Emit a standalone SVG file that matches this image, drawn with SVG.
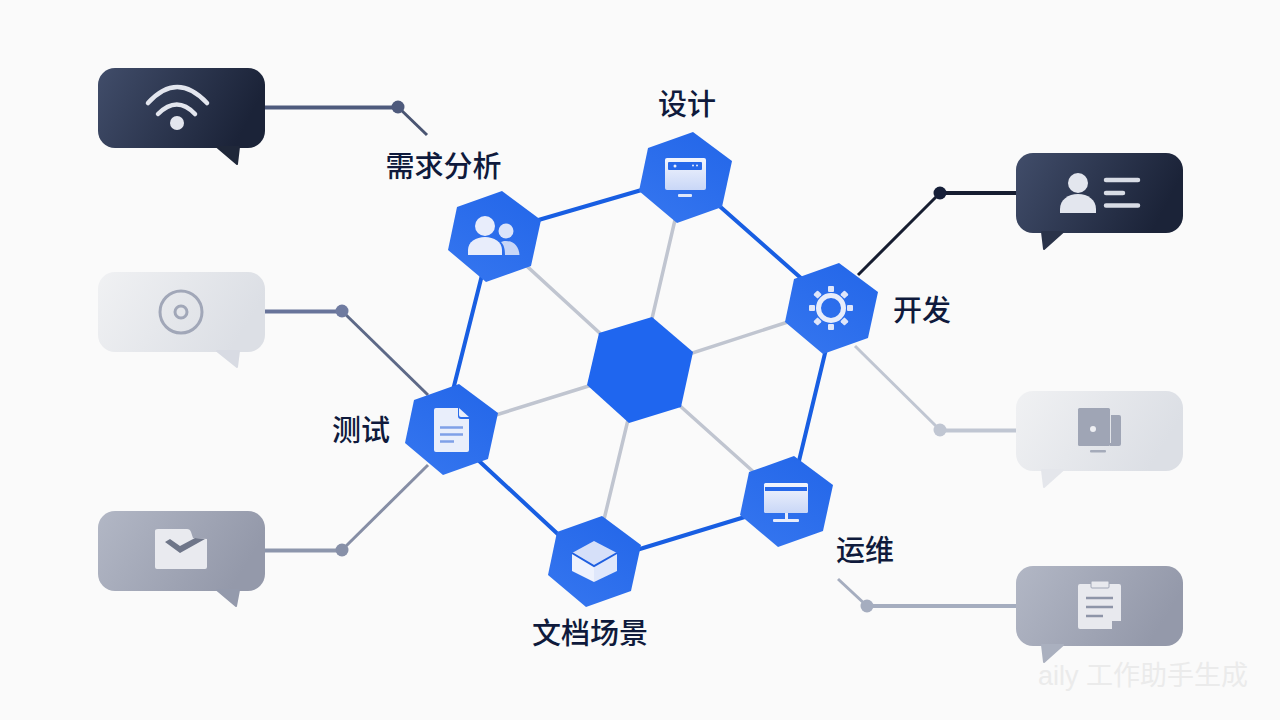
<svg xmlns="http://www.w3.org/2000/svg" width="1280" height="720" viewBox="0 0 1280 720">
<style>
.lbl{font-family:"Noto Sans CJK SC","Noto Sans",sans-serif;font-size:29px;font-weight:500;fill:#0f1a3c;text-anchor:middle;dominant-baseline:central}
.wm{font-family:"Liberation Sans","Noto Sans CJK SC",sans-serif;font-size:27px;fill:#ebebeb;text-anchor:middle}
.blue{stroke:#185ee2;stroke-width:4;fill:none}
.spoke{stroke:#c0c5d0;stroke-width:3.500;fill:none}
.wire{fill:none;stroke-width:3}
.hor{fill:none;stroke-width:4}
.ic{fill:#e8edfb}
</style>
<defs>
<linearGradient id="dark" x1="0" y1="0" x2="1" y2="0.25"><stop offset="0" stop-color="#414d6a"/><stop offset="1" stop-color="#1b2338"/></linearGradient>
<linearGradient id="light" x1="0" y1="0" x2="1" y2="0.3"><stop offset="0" stop-color="#f0f1f3"/><stop offset="1" stop-color="#dcdfe5"/></linearGradient>
<linearGradient id="mid" x1="0" y1="0" x2="1" y2="0.3"><stop offset="0" stop-color="#b2b7c5"/><stop offset="1" stop-color="#9499aa"/></linearGradient>
<linearGradient id="hex" x1="0.8" y1="0" x2="0.2" y2="1"><stop offset="0" stop-color="#2467e9"/><stop offset="1" stop-color="#3475ef"/></linearGradient>
<linearGradient id="scr" x1="0" y1="0" x2="0" y2="1"><stop offset="0" stop-color="#f2f5fd"/><stop offset="1" stop-color="#c9d7f7"/></linearGradient>
<path id="hx" d="M8,-45L47,-16L37,30L-8,46L-46,14L-37,-29Z" fill="url(#hex)"/>
</defs>
<rect width="1280" height="720" fill="#fafafa"/>
<text class="wm" x="1143" y="685">aily 工作助手生成</text>
<g id="connectors">
<path class="blue" d="M535,221L645,189M716,203L802,279M827,345L798,465M748,516L630,552M561,537L478,460M453,390L482,275"/>
<path class="spoke" d="M494,236L640,370M685,177L640,370M831,308L640,370M786,501L640,370M594,561L640,370M451,429L640,370"/>
<path class="hor" stroke="#4e5a7c" d="M265,107.500H398"/><path class="wire" stroke="#4a5572" d="M398,107L427,135"/><circle cx="398" cy="107" r="6.500" fill="#4e5a7c"/>
<path class="hor" stroke="#68749a" d="M265,311.500H342"/><path class="wire" stroke="#5d6987" d="M342,311L428,395"/><circle cx="342" cy="311" r="6.500" fill="#6f7ba0"/>
<path class="hor" stroke="#8d96ac" d="M265,550.500H342"/><path class="wire" stroke="#868ea5" d="M342,550L428,465"/><circle cx="342" cy="550" r="6.500" fill="#8790a8"/>
<path class="hor" stroke="#161d30" d="M1016,193H940"/><path class="wire" stroke="#161d30" d="M940,193L858,275"/><circle cx="940" cy="193" r="6.500" fill="#161f38"/>
<path class="hor" stroke="#c0c6d2" d="M1016,430.500H940"/><path class="wire" stroke="#c0c6d2" d="M940,430L855,346"/><circle cx="940" cy="430" r="6.500" fill="#c0c6d2"/>
<path class="hor" stroke="#a5adbf" d="M1016,606H867"/><path class="wire" stroke="#a5adbf" d="M867,606L838,579"/><circle cx="867" cy="606" r="6.500" fill="#a5adbf"/>
</g>
<g id="center"><path d="M652,317L693,352L681,407L629,423L587,385L599,333Z" fill="#1f66ef"/></g>
<g id="node-xuqiu"><use href="#hx" x="494" y="236"/>
<circle class="ic" cx="485" cy="226" r="10"/><path class="ic" d="M468,255V250C468,242 476,237 485,237C494,237 502,242 502,250V255Z"/>
<circle cx="506" cy="231" r="7.500" fill="#dbe4fa"/><path fill="#c7d6f7" d="M504,241C513,240 519,246 519.500,255H505C505,249 504,245 501,242Z"/>
</g>
<text class="lbl" x="443.500" y="164">需求分析</text>
<g id="node-sheji"><use href="#hx" x="685" y="177"/>
<rect x="665" y="158" width="41" height="32" rx="2" fill="url(#scr)"/><rect x="668" y="162" width="34" height="8" rx="1" fill="#2668ea"/><circle cx="675" cy="166" r="1.500" fill="#e8edfb"/><circle cx="693" cy="165.500" r="1" fill="#e8edfb"/><circle cx="697" cy="165.500" r="1" fill="#e8edfb"/>
<rect x="678" y="194" width="14" height="3" rx="1" fill="#dfe7fa"/>
</g>
<text class="lbl" x="687" y="102">设计</text>
<g id="node-kaifa"><use href="#hx" x="831" y="308"/>
<circle cx="831" cy="308" r="12.500" fill="none" stroke="#e8edfb" stroke-width="5"/>
<g fill="#dfe6fa"><rect x="828" y="286" width="6" height="6" rx="1"/><rect x="828" y="324" width="6" height="6" rx="1"/><rect x="809" y="305" width="6" height="6" rx="1"/><rect x="847" y="305" width="6" height="6" rx="1"/>
<rect x="828" y="286" width="6" height="6" rx="1" transform="rotate(45 831 308)"/><rect x="828" y="286" width="6" height="6" rx="1" transform="rotate(135 831 308)"/><rect x="828" y="286" width="6" height="6" rx="1" transform="rotate(225 831 308)"/><rect x="828" y="286" width="6" height="6" rx="1" transform="rotate(315 831 308)"/></g>
</g>
<text class="lbl" x="922" y="308">开发</text>
<g id="node-yunwei"><use href="#hx" x="786" y="501"/>
<rect x="764" y="483" width="44" height="30" rx="1.500" fill="url(#scr)"/><rect x="765" y="487" width="42" height="4" fill="#2668ea"/>
<rect x="785" y="513" width="3" height="6" fill="#e8edfb"/><rect x="773" y="519" width="26" height="3" rx="1" fill="#e8edfb"/>
</g>
<text class="lbl" x="865" y="548">运维</text>
<g id="node-wendang"><use href="#hx" x="594" y="561"/>
<path d="M594,541L617,553L594,566L572,553Z" fill="#d6e0f9"/><path d="M572,553L594,566V582L572,571Z" fill="#eef2fd"/><path d="M617,553L594,566V582L617,571Z" fill="#dfe7fb"/>
<path d="M572,553L594,566L617,553" fill="none" stroke="#1f5fe0" stroke-width="2"/>
</g>
<text class="lbl" x="590" y="631">文档场景</text>
<g id="node-ceshi"><use href="#hx" x="451" y="429"/>
<path d="M436,408H458V416Q458,419 461,419H469V450Q469,452 467,452H436Q434,452 434,450V410Q434,408 436,408Z" fill="#e9eefb"/><path d="M459,408L469,417H461Q459,417 459,415Z" fill="#e9eefb"/>
<path d="M440,427.500H463M440,434.500H463M440,441.500H454" stroke="#7fa0e8" stroke-width="2.500" fill="none"/>
</g>
<text class="lbl" x="361" y="428">测试</text>
<g id="bubble-wifi">
<rect x="98" y="68" width="167" height="80" rx="17" fill="url(#dark)"/><path d="M217,147L237,164L239,147Z" fill="#1f2739" stroke="#1f2739" stroke-width="2" stroke-linejoin="round"/>
<path d="M148,103Q177,71 207,103M158,114Q177,95 195,114" fill="none" stroke="#e3e6ee" stroke-width="4.500" stroke-linecap="round"/><circle cx="177" cy="123" r="7" fill="#e3e6ee"/>
</g>
<g id="bubble-disc">
<rect x="98" y="272" width="167" height="80" rx="17" fill="url(#light)"/><path d="M217,351L237,367L239,351Z" fill="#d8dbe3" stroke="#d8dbe3" stroke-width="2" stroke-linejoin="round"/>
<circle cx="181" cy="312" r="21" fill="none" stroke="#a1a7b8" stroke-width="3"/><circle cx="181" cy="312" r="6" fill="none" stroke="#a1a7b8" stroke-width="3"/>
</g>
<g id="bubble-mail">
<rect x="98" y="511" width="167" height="80" rx="17" fill="url(#mid)"/><path d="M217,590L236,606L239,590Z" fill="#949aac" stroke="#949aac" stroke-width="2" stroke-linejoin="round"/>
<path d="M158,529H187Q190,529 191,532L193,538L207,539V567Q207,569 205,569H157Q155,569 155,567V531Q155,529 158,529Z" fill="#e9eaef"/>
<path d="M165,542L180,553L205,539L195,538L180,546L170,539Z" fill="#6f7689"/>
</g>
<g id="bubble-id">
<rect x="1016" y="153" width="167" height="80" rx="17" fill="url(#dark)"/><path d="M1042,232L1044,249L1063,232Z" fill="#2a3349" stroke="#2a3349" stroke-width="2" stroke-linejoin="round"/>
<circle cx="1078" cy="183" r="10" fill="#e3e6ee"/><path d="M1060,213V209C1060,200 1068,194 1078,194C1088,194 1096,200 1096,209V213Z" fill="#e3e6ee"/>
<path d="M1106,180H1138M1106,193H1123M1106,205.500H1138" stroke="#d8dce5" stroke-width="4.500" stroke-linecap="round" fill="none"/>
</g>
<g id="bubble-device">
<rect x="1016" y="391" width="167" height="80" rx="17" fill="url(#light)"/><path d="M1042,470L1044,487L1063,470Z" fill="#e4e6eb" stroke="#e4e6eb" stroke-width="2" stroke-linejoin="round"/>
<rect x="1078" y="408" width="32" height="38" rx="1.500" fill="#9fa5b5"/><path d="M1111,415H1119Q1121,415 1121,417V444Q1121,446 1119,446H1110V443H1111Z" fill="#9fa5b5"/>
<circle cx="1093" cy="429" r="3" fill="#eeeff3"/><rect x="1090" y="450" width="16" height="2.500" rx="1" fill="#a5abba"/>
</g>
<g id="bubble-clip">
<rect x="1016" y="566" width="167" height="80" rx="17" fill="url(#mid)"/><path d="M1042,645L1044,662L1063,645Z" fill="#aab0bf" stroke="#aab0bf" stroke-width="2" stroke-linejoin="round"/>
<path d="M1080,584H1119Q1121,584 1121,586V621H1112V629H1080Q1078,629 1078,627V586Q1078,584 1080,584Z" fill="#e8e9ee"/>
<rect x="1091" y="581" width="18" height="7" rx="1" fill="#e8e9ee" stroke="#a0a6b6"/>
<path d="M1086,598H1113M1086,607H1113M1086,616H1103" stroke="#8e95a8" stroke-width="2.500" fill="none"/>
</g>
</svg>
